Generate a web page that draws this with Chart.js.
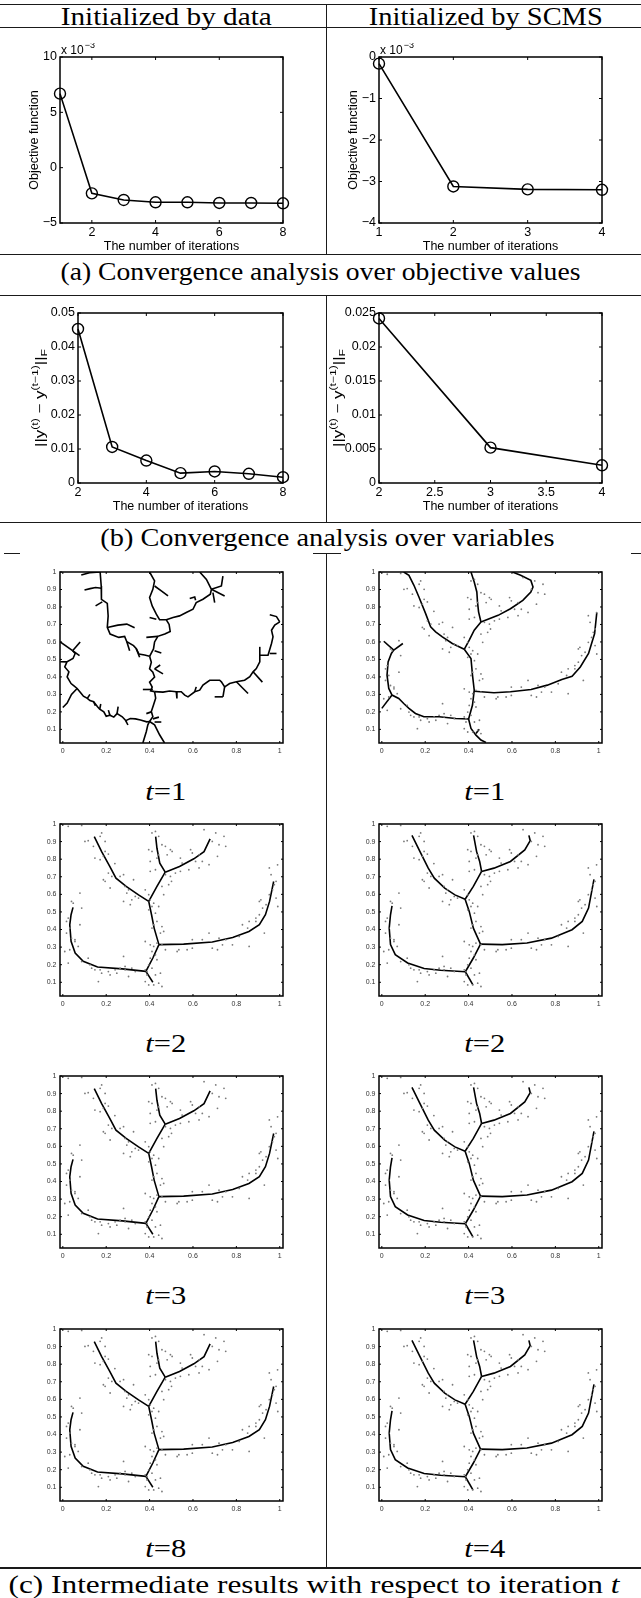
<!DOCTYPE html>
<html>
<head>
<meta charset="utf-8">
<script src="https://cdn.jsdelivr.net/npm/chart.js@4.4.1/dist/chart.umd.min.js"></script>
<style>
  body { margin: 0; background: #fff; width: 641px; height: 1598px; position: relative; overflow: hidden; }
  .rule { position: absolute; background: #1a1a1a; }
  .txt { position: absolute; font-family: 'Liberation Serif', 'Times New Roman', serif; white-space: nowrap; line-height: 1; transform-origin: center center; color: #000; }
</style>
</head>
<body>
<script>
// ---- convergence data (objective in units of 1e-3) ----
const itersData = [1, 2, 3, 4, 5, 6, 7, 8];
const objData = [6.69, -2.32, -2.92, -3.13, -3.13, -3.19, -3.19, -3.22];
const itersScms = [1, 2, 3, 4];
const objScms = [-0.16, -3.12, -3.19, -3.2];
const diffItersData = [2, 3, 4, 5, 6, 7, 8];
const diffData = [0.0453, 0.0106, 0.0066, 0.0029, 0.0034, 0.0027, 0.0017];
const diffItersScms = [2, 3, 4];
const diffScms = [0.0242, 0.0052, 0.0026];

// ---- tick values / labels ----
const objDataYTicks = [-5, 0, 5, 10];
const objDataYLabels = ['\u22125', '0', '5', '10'];
const objDataXTicks = [2, 4, 6, 8];
const objDataXLabels = ['2', '4', '6', '8'];
const objScmsYTicks = [-4, -3, -2, -1, 0];
const objScmsYLabels = ['\u22124', '\u22123', '\u22122', '\u22121', '0'];
const objScmsXTicks = [1, 2, 3, 4];
const objScmsXLabels = ['1', '2', '3', '4'];
const diffDataYTicks = [0, 0.01, 0.02, 0.03, 0.04, 0.05];
const diffDataYLabels = ['0', '0.01', '0.02', '0.03', '0.04', '0.05'];
const diffScmsYTicks = [0, 0.005, 0.01, 0.015, 0.02, 0.025];
const diffScmsYLabels = ['0', '0.005', '0.01', '0.015', '0.02', '0.025'];
const diffScmsXTicks = [2, 2.5, 3, 3.5, 4];
const diffScmsXLabels = ['2', '2.5', '3', '3.5', '4'];
const treeXTicks = [0, 0.2, 0.4, 0.6, 0.8, 1];
const treeXLabels = ['0', '0.2', '0.4', '0.6', '0.8', '1'];
const treeYTicks = [0.1, 0.2, 0.3, 0.4, 0.5, 0.6, 0.7, 0.8, 0.9, 1];
const treeYLabels = ['0.1', '0.2', '0.3', '0.4', '0.5', '0.6', '0.7', '0.8', '0.9', '1'];

// ---- sample points (shared by the tree plots) ----
const samplePts = [
  [.025,.987],[.087,.992],[.179,.949],[.172,.930],[.102,.901],[.117,.905],[.195,.844],[.210,.829],[.187,.816],[.148,.806],
  [.172,.797],[.210,.721],[.187,.683],[.195,.674],[.226,.702],[.264,.702],[.280,.712],[.326,.683],[.287,.645],[.218,.636],
  [.303,.626],[.295,.607],[.334,.588],[.349,.579],[.318,.569],[.280,.560],[.311,.541],[.380,.626],[.396,.598],[.403,.569],
  [.411,.531],[.419,.550],[.442,.531],[.396,.512],[.427,.493],[.419,.427],[.411,.408],[.434,.446],[.457,.417],[.450,.380],
  [.465,.389],[.380,.332],[.403,.313],[.419,.304],[.434,.323],[.457,.313],[.411,.275],[.427,.256],[.403,.237],[.434,.228],
  [.396,.199],[.411,.180],[.388,.161],[.427,.142],[.450,.152],[.380,.104],[.396,.085],[.442,.095],[.419,.085],[.457,.076],
  [.427,.958],[.411,.949],[.442,.930],[.457,.882],[.473,.873],[.496,.854],[.396,.854],[.411,.844],[.442,.825],[.481,.825],
  [.434,.806],[.403,.787],[.427,.740],[.403,.731],[.473,.712],[.496,.702],[.501,.674],[.488,.655],[.457,.645],[.465,.598],
  [.504,.844],[.542,.806],[.550,.778],[.589,.854],[.597,.835],[.581,.740],[.612,.787],[.628,.825],[.643,.787],[.651,.968],
  [.705,.949],[.743,.930],[.689,.901],[.720,.882],[.751,.873],[.713,.816],[.628,.750],[.674,.769],[.542,.731],[.519,.721],
  [.597,.342],[.643,.342],[.674,.380],[.720,.351],[.751,.342],[.813,.361],[.828,.427],[.852,.408],[.859,.304],[.689,.294],
  [.713,.285],[.597,.294],[.573,.285],[.535,.285],[.527,.275],[.473,.285],[.890,.465],[.906,.484],[.921,.522],[.906,.560],
  [.913,.569],[.937,.541],[.952,.598],[.967,.626],[.975,.655],[.983,.674],[.952,.750],[.960,.712],[.983,.579],[.991,.531],
  [.990,.768],[.929,.380],[.890,.446],[.859,.446],[.782,.313],[.736,.313],
  [.040,.560],[.048,.550],[.087,.522],[.079,.607],[.025,.465],[.017,.446],[.032,.408],[.017,.380],[.040,.351],[.056,.332],
  [.071,.304],[.032,.285],[.009,.275],[.025,.209],[.087,.218],[.117,.237],[.125,.199],[.133,.180],[.148,.171],[.172,.171],
  [.179,.152],[.210,.161],[.218,.142],[.241,.171],[.264,.180],[.280,.247],[.287,.190],[.303,.133],[.334,.161],[.164,.104],
  [.380,.171],[.388,.142],[.195,.901],[.141,.873],[.056,.342],[.079,.427],[.249,.152],[.287,.171],[.318,.180],[.240,.775]
];

// ---- trees: each entry is one branch (polyline) ----
const treeInitData1 = [
  [[.172,1.0],[.177,.92],[.178,.844],[.205,.82],[.209,.749],[.205,.683],[.218,.645],[.258,.626],[.285,.632],[.295,.601],[.326,.579],[.338,.563],[.351,.531],[.377,.525],[.40,.518]],
  [[.205,.683],[.254,.696],[.295,.702],[.331,.681]],
  [[.151,.806],[.182,.829]],
  [[.10,.897],[.126,.905],[.151,.911],[.178,.907]],
  [[.085,.983],[.123,.996],[.172,1.0]],
  [[.295,.601],[.308,.55]],
  [[.338,.563],[.354,.512]],
  [[.40,1.0],[.423,.949],[.415,.901],[.40,.854],[.412,.806],[.431,.759],[.446,.727],[.477,.727],[.49,.70],[.495,.66],[.47,.645],[.438,.632],[.423,.60],[.418,.56],[.40,.518]],
  [[.423,.92],[.454,.892],[.485,.863]],
  [[.40,.74],[.431,.73]],
  [[.385,.626],[.438,.632]],
  [[.423,.55],[.454,.537]],
  [[.477,.727],[.508,.74],[.538,.749],[.569,.768],[.60,.787],[.615,.825],[.646,.844],[.68,.873],[.685,.901],[.662,.958],[.631,1.0]],
  [[.685,.901],[.731,.92],[.738,.977]],
  [[.685,.901],[.746,.863]],
  [[.692,.882],[.70,.825]],
  [[.585,.848],[.608,.857],[.612,.838]],
  [[.40,.518],[.408,.484],[.40,.446],[.415,.427],[.423,.399],[.40,.37],[.412,.342],[.405,.32],[.423,.316]],
  [[.423,.446],[.462,.417]],
  [[.423,.446],[.449,.468]],
  [[.369,.328],[.415,.328]],
  [[.423,.316],[.428,.278],[.418,.24],[.408,.202],[.415,.173],[.40,.145],[.392,.126],[.385,.088],[.369,.022]],
  [[.40,.145],[.423,.126],[.446,.069],[.469,.022]],
  [[.408,.2],[.385,.19]],
  [[.415,.16],[.443,.17]],
  [[.423,.142],[.454,.142]],
  [[.423,.316],[.462,.313],[.492,.319],[.523,.315],[.546,.315],[.562,.296],[.577,.286],[.608,.315],[.631,.324],[.646,.353],[.677,.381],[.723,.381],[.731,.372],[.746,.343],[.769,.362],[.80,.372],[.838,.381],[.862,.401],[.877,.429],[.892,.448],[.908,.486],[.908,.524],[.946,.524],[.962,.591],[.969,.629],[.962,.667],[.977,.696],[1.0,.715]],
  [[.80,.372],[.854,.305]],
  [[.746,.343],[.738,.286]],
  [[.70,.286],[.738,.286]],
  [[.877,.429],[.92,.37]],
  [[.908,.524],[.908,.572]],
  [[.954,.534],[.985,.534]],
  [[1.0,.715],[.985,.745],[.954,.755]],
  [[.523,.315],[.526,.277]],
  [[.608,.315],[.615,.343]],
  [[.40,.145],[.387,.143],[.358,.153],[.335,.16],[.311,.162],[.29,.15],[.274,.172],[.25,.19],[.235,.17],[.217,.181],[.20,.175],[.189,.20],[.17,.215],[.16,.229],[.142,.258],[.125,.265],[.113,.277],[.095,.29],[.085,.305],[.066,.334],[.05,.35],[.038,.362],[.02,.40],[.028,.429],[.009,.457],[.019,.486],[.047,.505],[.057,.534],[.045,.55]],
  [[.045,.55],[-.012,.60]],
  [[.045,.55],[.08,.60]],
  [[.045,.55],[.077,.522]],
  [[.019,.486],[-.012,.487]],
  [[.066,.334],[.04,.30],[.02,.25],[.0,.225]],
  [[.17,.215],[.175,.245]],
  [[.217,.181],[.21,.21]],
  [[.25,.19],[.255,.23]],
  [[.29,.15],[.30,.125]],
  [[.142,.258],[.15,.235]],
  [[.113,.277],[.125,.30]]
];

const treeInitScms1 = [
  [[.101,1.0],[.125,.981],[.148,.924],[.171,.857],[.202,.762],[.225,.686],[.248,.658],[.279,.629],[.325,.591],[.38,.558]],
  [[.411,1.0],[.426,.943],[.438,.886],[.441,.829],[.446,.772],[.457,.714]],
  [[.457,.714],[.536,.752],[.593,.79],[.65,.838],[.687,.886],[.697,.914],[.687,.952],[.64,.981],[.602,1.0]],
  [[.38,.558],[.403,.61],[.426,.667],[.457,.714]],
  [[.38,.558],[.411,.505],[.418,.41],[.426,.324],[.418,.239],[.40,.159]],
  [[.426,.318],[.517,.309],[.593,.315],[.688,.328],[.763,.353],[.83,.385],[.877,.404],[.915,.457],[.953,.534],[.981,.648],[.991,.768]],
  [[.40,.159],[.411,.105],[.434,.067],[.457,.039],[.48,.025]],
  [[.434,.076],[.449,.101]],
  [[.40,.159],[.341,.162],[.264,.172],[.194,.172],[.155,.191],[.125,.22],[.101,.248],[.078,.277],[.047,.296],[.032,.334],[.024,.41],[.029,.486],[.044,.534],[.055,.553]],
  [[.055,.553],[.009,.604]],
  [[.055,.553],[.097,.591]],
  [[.047,.296],[.0,.22]]
];

const treeDataLater = [
  [[.145,.928],[.179,.843],[.217,.758],[.245,.692],[.292,.645],[.349,.597],[.396,.56]],
  [[.428,.928],[.434,.862],[.447,.777],[.472,.726]],
  [[.472,.726],[.538,.758],[.604,.802],[.651,.843],[.679,.915]],
  [[.396,.56],[.434,.645],[.472,.726]],
  [[.396,.56],[.409,.484],[.421,.408],[.443,.314]],
  [[.443,.314],[.557,.317],[.689,.329],[.783,.355],[.858,.389],[.906,.427],[.934,.484],[.953,.56],[.972,.673]],
  [[.443,.314],[.415,.238],[.383,.162]],
  [[.383,.162],[.415,.10]],
  [[.383,.162],[.274,.176],[.16,.187],[.094,.219],[.057,.266],[.038,.333],[.032,.427],[.038,.484],[.047,.526]]
];

const treeScmsLater = [
  [[.139,.935],[.176,.843],[.214,.749],[.242,.692],[.29,.635],[.337,.597],[.384,.572]],
  [[.423,.935],[.437,.843],[.451,.787],[.460,.730]],
  [[.460,.730],[.517,.749],[.593,.787],[.659,.853],[.684,.905],[.678,.935]],
  [[.384,.572],[.422,.645],[.460,.730]],
  [[.384,.572],[.403,.503],[.422,.408],[.455,.317]],
  [[.455,.317],[.555,.314],[.669,.323],[.782,.351],[.877,.399],[.924,.446],[.953,.522],[.978,.685]],
  [[.455,.317],[.422,.238],[.385,.160]],
  [[.385,.160],[.420,.085]],
  [[.385,.160],[.271,.168],[.195,.178],[.119,.21],[.062,.257],[.04,.314],[.034,.408],[.04,.484],[.047,.535]]
];

// ---- helpers ----
const SANS = "'Liberation Sans', Arial, sans-serif";

function drawNorm(ctx, cx, cy, len) {
  const parts = [['||y', 12.5, 0], ['(t)', 9, -5], [' \u2212 y', 12.5, 0], ['(t\u22121)', 9, -5], ['||', 12.5, 0], ['F', 9, 4]];
  ctx.save();
  ctx.translate(cx, cy);
  ctx.rotate(-Math.PI / 2);
  let total = 0;
  parts.forEach(p => { ctx.font = p[1] + 'px ' + SANS; p[3] = ctx.measureText(p[0]).width; total += p[3]; });
  ctx.scale(len / total, 1);
  ctx.textBaseline = 'middle';
  ctx.textAlign = 'left';
  ctx.fillStyle = '#000';
  let x = -total / 2;
  parts.forEach(p => { ctx.font = p[1] + 'px ' + SANS; ctx.fillText(p[0], x, p[2]); x += p[3]; });
  ctx.restore();
}

const framePlugin = {
  id: 'frame',
  afterDatasetsDraw(chart, args, o) {
    const { ctx, chartArea: a } = chart;
    const sx = chart.scales.x, sy = chart.scales.y;
    ctx.save();
    ctx.strokeStyle = '#000';
    ctx.lineWidth = 1;
    ctx.beginPath();
    sx.ticks.forEach(t => {
      const p = sx.getPixelForValue(t.value);
      ctx.moveTo(p, a.bottom); ctx.lineTo(p, a.bottom - o.tick);
      ctx.moveTo(p, a.top); ctx.lineTo(p, a.top + o.tick);
    });
    sy.ticks.forEach(t => {
      const p = sy.getPixelForValue(t.value);
      ctx.moveTo(a.left, p); ctx.lineTo(a.left + o.tick, p);
      ctx.moveTo(a.right, p); ctx.lineTo(a.right - o.tick, p);
    });
    ctx.stroke();
    ctx.lineWidth = o.box;
    ctx.strokeRect(a.left, a.top, a.right - a.left, a.bottom - a.top);
    if (o.exponent) {
      ctx.fillStyle = '#000';
      ctx.textAlign = 'left';
      ctx.textBaseline = 'alphabetic';
      ctx.font = '12px ' + SANS;
      ctx.fillText('x 10', a.left + 1, a.top - 3);
      const w = ctx.measureText('x 10').width;
      ctx.font = '9px ' + SANS;
      ctx.fillText(o.exponent, a.left + w + 2, a.top - 9);
    }
    if (o.norm) drawNorm(ctx, o.norm, (a.top + a.bottom) / 2, 98);
    ctx.restore();
  }
};

function addCanvas(left, top, w, h) {
  const c = document.createElement('canvas');
  c.width = w; c.height = h;
  c.style.cssText = 'position:absolute;left:' + left + 'px;top:' + top + 'px;width:' + w + 'px;height:' + h + 'px';
  document.body.appendChild(c);
  return c;
}

function axis(min, max, vals, labels, size, pad, fit, title) {
  return {
    type: 'linear', min: min, max: max,
    grid: { display: false, drawTicks: false },
    border: { display: false },
    afterBuildTicks: s => { s.ticks = vals.map(v => ({ value: v })); },
    afterFit: s => { if (s.isHorizontal()) s.height = fit; else s.width = fit; },
    ticks: { autoSkip: false, maxRotation: 0, padding: pad, color: size < 10 ? '#333' : '#000',
             font: { family: SANS, size: size }, callback: (v, i) => labels[i] },
    title: title || { display: false }
  };
}

// line chart with hollow circle markers
function convChart(box, xs, ys, xr, yr, xt, xl, yt, yl, yTitle, extra) {
  const L = 60, T = 14, R = 14, B = 36;
  const c = addCanvas(box[0] - L, box[1] - T, box[2] + L + R, box[3] + T + B);
  new Chart(c, {
    type: 'scatter',
    data: { datasets: [{
      data: xs.map((x, i) => ({ x: x, y: ys[i] })),
      showLine: true, borderColor: '#000', borderWidth: 1.6, clip: false,
      pointStyle: 'circle', pointRadius: 5.5, pointBorderWidth: 1.4,
      pointBorderColor: '#000', pointBackgroundColor: 'rgba(0,0,0,0)'
    }] },
    options: {
      responsive: false, animation: false, devicePixelRatio: 1,
      layout: { padding: { left: 0, top: T, right: R, bottom: 0 } },
      plugins: { legend: { display: false }, tooltip: { enabled: false }, frame: Object.assign({ tick: 3, box: 1.5 }, extra) },
      scales: {
        x: axis(xr[0], xr[1], xt, xl, 12.5, 2.5, B,
          { display: true, text: 'The number of iterations', color: '#000', font: { family: SANS, size: 12.5 }, padding: { top: 0, bottom: 5 } }),
        y: axis(yr[0], yr[1], yt, yl, 12.5, 3, L, yTitle)
      }
    },
    plugins: [framePlugin]
  });
}

// tree plot: sample points + branch polylines
function treeChart(box, branches, pts) {
  const L = 30, T = 8, R = 10, B = 22;
  const c = addCanvas(box[0] - L, box[1] - T, box[2] + L + R, box[3] + T + B);
  const sets = [];
  if (pts) sets.push({ data: pts.map(p => ({ x: p[0], y: p[1] })), pointRadius: 0.9, borderWidth: 0, backgroundColor: '#7a7a7a' });
  branches.forEach(br => sets.push({
    data: br.map(p => ({ x: p[0], y: p[1] })), showLine: true, pointRadius: 0,
    borderColor: '#000', borderWidth: 1.6, tension: 0
  }));
  new Chart(c, {
    type: 'scatter',
    data: { datasets: sets },
    options: {
      responsive: false, animation: false, devicePixelRatio: 1,
      layout: { padding: { left: 0, top: T, right: R, bottom: 0 } },
      plugins: { legend: { display: false }, tooltip: { enabled: false }, frame: { tick: 2, box: 1.5 } },
      scales: {
        x: axis(-0.013, 1.015, treeXTicks, treeXLabels, 7, 4, B),
        y: axis(0.022, 1.0, treeYTicks, treeYLabels, 7, 3.5, L)
      }
    },
    plugins: [framePlugin]
  });
}

function rule(x, y, w, h) {
  const d = document.createElement('div');
  d.className = 'rule';
  d.style.cssText = 'left:' + x + 'px;top:' + y + 'px;width:' + w + 'px;height:' + h + 'px';
  document.body.appendChild(d);
}

function text(html, cx, cy, w, size) {
  const d = document.createElement('div');
  d.className = 'txt';
  d.style.fontSize = size + 'px';
  d.innerHTML = html;
  document.body.appendChild(d);
  const nat = d.getBoundingClientRect().width;
  d.style.left = (cx - nat / 2) + 'px';
  d.style.top = (cy - 0.52 * size) + 'px';
  d.style.transform = 'scaleX(' + (w / nat).toFixed(3) + ')';
}

// ---- table rules ----
[3.5, 26.5, 253.5, 294.5, 521.5, 1567].forEach(y => rule(0, y, 641, 1.5));
rule(4, 552.5, 16, 1.5); rule(313, 552.5, 28, 1.5); rule(631, 552.5, 10, 1.5);
rule(325.5, 4, 1.5, 250); rule(325.5, 295, 1.5, 227); rule(325.5, 553, 1.5, 1015);

// ---- text ----
text('Initialized by data', 166, 17, 211, 25);
text('Initialized by SCMS', 486, 17, 234, 25);
text('(a) Convergence analysis over objective values', 320.5, 272, 520, 25);
text('(b) Convergence analysis over variables', 327, 537.5, 454, 25);
text('(c) Intermediate results with respect to iteration <i>t</i>', 314, 1585, 611, 25);

const rowTops = [572, 824, 1076, 1329];
const leftTs = ['1', '2', '3', '8'];
const rightTs = ['1', '2', '3', '4'];
rowTops.forEach((top, i) => {
  text('<i>t</i>=' + leftTs[i], 165.6, top + 220, 41, 25);
  text('<i>t</i>=' + rightTs[i], 484.5, top + 220, 41, 25);
});

// ---- charts ----
const objTitle = { display: true, text: 'Objective function', color: '#000', font: { family: SANS, size: 12.5 }, padding: { top: 26.8, bottom: 0 } };
convChart([60, 57, 223, 166], itersData, objData, [1, 8], [-5, 10], objDataXTicks, objDataXLabels, objDataYTicks, objDataYLabels, objTitle, { exponent: '\u22123' });
convChart([379, 57, 223, 166], itersScms, objScms, [1, 4], [-4, 0], objScmsXTicks, objScmsXLabels, objScmsYTicks, objScmsYLabels, objTitle, { exponent: '\u22123' });
convChart([78, 313, 205, 170], diffItersData, diffData, [2, 8], [0, 0.05], objDataXTicks, objDataXLabels, diffDataYTicks, diffDataYLabels, null, { norm: 23 });
convChart([379, 313, 223, 170], diffItersScms, diffScms, [2, 4], [0, 0.025], diffScmsXTicks, diffScmsXLabels, diffScmsYTicks, diffScmsYLabels, null, { norm: 20 });

treeChart([60, rowTops[0], 223, 171], treeInitData1, null);
treeChart([379, rowTops[0], 223, 171], treeInitScms1, samplePts);
for (let i = 1; i < 4; i++) {
  treeChart([60, rowTops[i], 223, 172], treeDataLater, samplePts);
  treeChart([379, rowTops[i], 223, 172], treeScmsLater, samplePts);
}
</script>
</body>
</html>
